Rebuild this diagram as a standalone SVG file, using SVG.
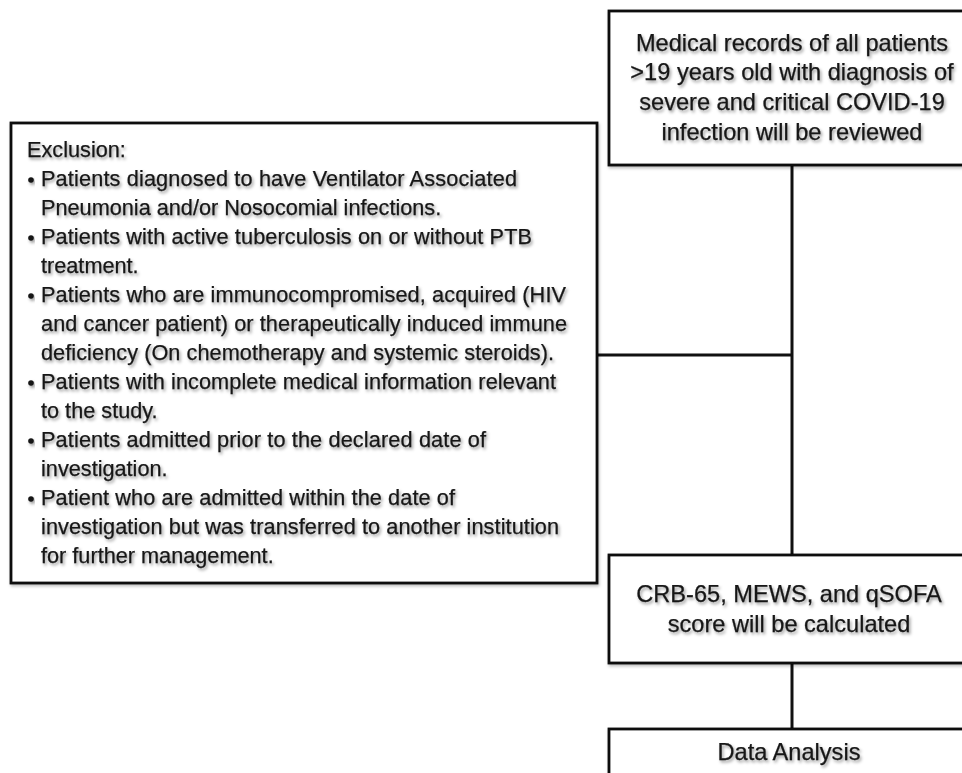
<svg xmlns="http://www.w3.org/2000/svg" width="962" height="773" viewBox="0 0 962 773">
  <defs>
    <filter id="ts" x="-5%" y="-30%" width="110%" height="160%">
      <feDropShadow dx="1.5" dy="2.2" stdDeviation="1.5" flood-color="#000" flood-opacity="0.4"/>
    </filter>
    <filter id="bs" x="-5%" y="-5%" width="110%" height="110%">
      <feDropShadow dx="1" dy="2" stdDeviation="1.5" flood-color="#000" flood-opacity="0.25"/>
    </filter>
  </defs>
  <style>
    .box { fill: #ffffff; stroke: #111; stroke-width: 2.8; }
    .conn { stroke: #111; stroke-width: 3; fill: none; }
    .t { font-family: "Liberation Sans", Arial, sans-serif; fill: #161616; stroke: #161616; stroke-width: 0.25; }
    .c { font-size: 23.6px; text-anchor: middle; }
    .l { font-size: 21.7px; }
  </style>
  <rect width="962" height="773" fill="#ffffff"/>

  <g id="connectors">
    <line class="conn" x1="792" y1="165" x2="792" y2="555"/>
    <line class="conn" x1="597" y1="355" x2="792" y2="355"/>
    <line class="conn" x1="792" y1="663" x2="792" y2="729"/>
  </g>

  <g id="records">
    <rect class="box" x="609" y="11" width="370" height="154" filter="url(#bs)"/>
    <g class="t c" filter="url(#ts)">
      <text x="792" y="51">Medical records of all patients</text>
      <text x="792" y="80">&gt;19 years old with diagnosis of</text>
      <text x="792" y="110">severe and critical COVID-19</text>
      <text x="792" y="140">infection will be reviewed</text>
    </g>
  </g>

  <g id="exclusion">
    <rect class="box" x="11" y="123" width="586" height="460" filter="url(#bs)"/>
    <g fill="#161616" filter="url(#ts)">
      <circle cx="31" cy="180" r="2.8"/>
      <circle cx="31" cy="238" r="2.8"/>
      <circle cx="31" cy="296" r="2.8"/>
      <circle cx="31" cy="383" r="2.8"/>
      <circle cx="31" cy="441" r="2.8"/>
      <circle cx="31" cy="499" r="2.8"/>
    </g>
    <g class="t l" filter="url(#ts)">
      <text x="27" y="157">Exclusion:</text>
      <text x="41" y="186" textLength="476" lengthAdjust="spacing">Patients diagnosed to have Ventilator Associated</text>
      <text x="41" y="215">Pneumonia and/or Nosocomial infections.</text>
      <text x="41" y="244" textLength="491" lengthAdjust="spacing">Patients with active tuberculosis on or without PTB</text>
      <text x="41" y="273">treatment.</text>
      <text x="41" y="302" textLength="525" lengthAdjust="spacing">Patients who are immunocompromised, acquired (HIV</text>
      <text x="41" y="331" textLength="526" lengthAdjust="spacing">and cancer patient) or therapeutically induced immune</text>
      <text x="41" y="360" textLength="513" lengthAdjust="spacing">deficiency (On chemotherapy and systemic steroids).</text>
      <text x="41" y="389" textLength="515" lengthAdjust="spacing">Patients with incomplete medical information relevant</text>
      <text x="41" y="418">to the study.</text>
      <text x="41" y="447" textLength="445" lengthAdjust="spacing">Patients admitted prior to the declared date of</text>
      <text x="41" y="476">investigation.</text>
      <text x="41" y="505" textLength="414" lengthAdjust="spacing">Patient who are admitted within the date of</text>
      <text x="41" y="534" textLength="518" lengthAdjust="spacing">investigation but was transferred to another institution</text>
      <text x="41" y="563">for further management.</text>
    </g>
  </g>

  <g id="scores">
    <rect class="box" x="609" y="555" width="370" height="108" filter="url(#bs)"/>
    <g class="t c" filter="url(#ts)">
      <text x="789" y="602">CRB-65, MEWS, and qSOFA</text>
      <text x="789" y="632">score will be calculated</text>
    </g>
  </g>

  <g id="analysis">
    <rect class="box" x="609" y="729" width="370" height="80" filter="url(#bs)"/>
    <text class="t c" x="789" y="760" filter="url(#ts)">Data Analysis</text>
  </g>
</svg>
